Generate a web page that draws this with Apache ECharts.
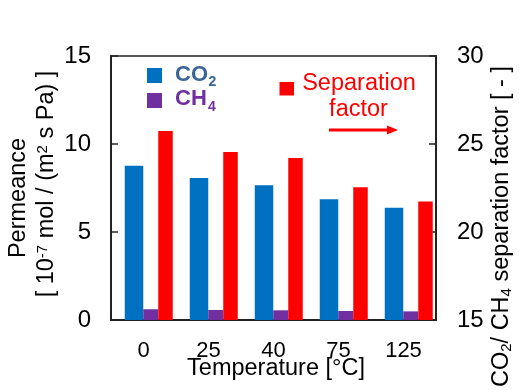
<!DOCTYPE html>
<html>
<head>
<meta charset="utf-8">
<script src="https://cdn.jsdelivr.net/npm/echarts@6/dist/echarts.min.js"></script>
<style>
html,body{margin:0;padding:0;background:#fff;}
#chart{width:519px;height:390px;}
</style>
</head>
<body>
<div id="chart"></div>
<script>
// ---- data ----
var categories = ['0', '25', '40', '75', '125'];
var co2Permeance = [8.77, 8.07, 7.65, 6.86, 6.38];
var ch4Permeance = [0.61, 0.57, 0.55, 0.51, 0.49];
var separationFactor = [25.74, 24.55, 24.2, 22.54, 21.74];
var leftTicks = [0, 15, 5];   // min, max, interval
var rightTicks = [15, 30, 5]; // min, max, interval

var FONT = "'Liberation Sans', Arial, sans-serif";
var AXIS_COLOR = '#222';
var chart = echarts.init(document.getElementById('chart'), null, {renderer: 'canvas'});

var option = {
  animation: false,
  backgroundColor: '#fff',
  grid: {left: 111, right: 83, top: 56, bottom: 70, show: true, borderColor: AXIS_COLOR, borderWidth: 1.5, backgroundColor: 'transparent'},
  xAxis: {
    type: 'category',
    data: categories,
    axisLine: {lineStyle: {color: AXIS_COLOR, width: 2}},
    axisTick: {inside: true, length: 7, lineStyle: {color: AXIS_COLOR, width: 1.5}},
    axisLabel: {color: '#000', fontSize: 22, fontFamily: FONT, margin: 19.5},
    splitLine: {show: false}
  },
  yAxis: [
    {
      type: 'value', min: leftTicks[0], max: leftTicks[1], interval: leftTicks[2],
      axisLine: {show: true, lineStyle: {color: AXIS_COLOR, width: 2}},
      axisTick: {show: true, inside: true, length: 7, lineStyle: {color: AXIS_COLOR, width: 1.5}},
      axisLabel: {color: '#000', fontSize: 24, fontFamily: FONT, margin: 20},
      splitLine: {show: false}
    },
    {
      type: 'value', min: rightTicks[0], max: rightTicks[1], interval: rightTicks[2], position: 'right',
      axisLine: {show: true, lineStyle: {color: AXIS_COLOR, width: 2}},
      axisTick: {show: true, inside: true, length: 7, lineStyle: {color: AXIS_COLOR, width: 1.5}},
      axisLabel: {color: '#000', fontSize: 24, fontFamily: FONT, margin: 21},
      splitLine: {show: false}
    }
  ],
  series: [
    {name: 'spacer', type: 'bar', yAxisIndex: 0, barWidth: 10.5, barGap: '0%', data: categories.map(function(){return '-';}), silent: true},
    {name: 'CO2', type: 'bar', yAxisIndex: 0, barWidth: 18.5, barGap: '0%', itemStyle: {color: '#0070c0'}, data: co2Permeance},
    {name: 'CH4', type: 'bar', yAxisIndex: 0, barWidth: 15, barGap: '0%', itemStyle: {color: '#7030a0'}, data: ch4Permeance},
    {name: 'Separation factor', type: 'bar', yAxisIndex: 1, barWidth: 14.5, barGap: '0%', clip: true, itemStyle: {color: '#ff0000'}, data: separationFactor}
  ],
  graphic: [
    // legend
    {type: 'rect', shape: {x: 147, y: 68, width: 15, height: 15}, style: {fill: '#0070c0'}},
    {type: 'rect', shape: {x: 147, y: 93, width: 15, height: 15}, style: {fill: '#7030a0'}},
    {type: 'text', x: 175, y: 75.3, style: {text: 'CO', align: 'left', verticalAlign: 'middle', fontSize: 22, fontWeight: 'bold', fontFamily: FONT, fill: '#3a6496'}},
    {type: 'text', x: 208.5, y: 82.5, style: {text: '2', align: 'left', verticalAlign: 'middle', fontSize: 14, fontWeight: 'bold', fontFamily: FONT, fill: '#3a6496'}},
    {type: 'text', x: 175, y: 98.6, style: {text: 'CH', align: 'left', verticalAlign: 'middle', fontSize: 22, fontWeight: 'bold', fontFamily: FONT, fill: '#7030a0'}},
    {type: 'text', x: 208, y: 107.5, style: {text: '4', align: 'left', verticalAlign: 'middle', fontSize: 14, fontWeight: 'bold', fontFamily: FONT, fill: '#7030a0'}},
    {type: 'rect', shape: {x: 279.5, y: 82, width: 14.5, height: 13.5}, style: {fill: '#ff0000'}},
    {type: 'text', x: 359, y: 84, style: {text: 'Separation', align: 'center', verticalAlign: 'middle', fontSize: 23.5, fontFamily: FONT, fill: '#ff0000'}},
    {type: 'text', x: 358.5, y: 110, style: {text: 'factor', align: 'center', verticalAlign: 'middle', fontSize: 23.5, fontFamily: FONT, fill: '#ff0000'}},
    {type: 'line', shape: {x1: 329, y1: 130, x2: 390, y2: 130}, style: {stroke: '#ff0000', lineWidth: 3}},
    {type: 'polygon', shape: {points: [[387, 125.5], [398, 130], [387, 134.5]]}, style: {fill: '#ff0000'}},
    // axis titles
    {type: 'text', x: 19, y: 198, rotation: Math.PI / 2, style: {text: 'Permeance', align: 'center', verticalAlign: 'middle', fontSize: 23.5, fontFamily: FONT, fill: '#000'}},
    {type: 'text', x: 47, y: 184, rotation: Math.PI / 2, style: {text: '{n|[ 10}{sup|-7}{n| mol / (m}{sup|2}{n| s Pa) ]}', align: 'center', verticalAlign: 'middle',
      rich: {n: {fontSize: 23.5, fontFamily: FONT, fill: '#000', verticalAlign: 'bottom'},
             sup: {fontSize: 15, fontFamily: FONT, fill: '#000', verticalAlign: 'top'}}}},
    {type: 'text', x: 502, y: 387, rotation: Math.PI / 2, style: {text: '{n|CO}{sub|2}{n|/ CH}{sub|4}{n| separation factor [ - ]}', align: 'left', verticalAlign: 'middle',
      rich: {n: {fontSize: 23.5, lineHeight: 24, fontFamily: FONT, fill: '#000', verticalAlign: 'top'},
             sub: {fontSize: 15, lineHeight: 14, padding: [12, 0, 0, 0], fontFamily: FONT, fill: '#000', verticalAlign: 'bottom'}}}},
    {type: 'text', x: 276, y: 368.5, style: {text: 'Temperature [°C]', align: 'center', verticalAlign: 'middle', fontSize: 23.5, fontFamily: FONT, fill: '#000'}}
  ]
};
chart.setOption(option);
</script>
</body>
</html>
